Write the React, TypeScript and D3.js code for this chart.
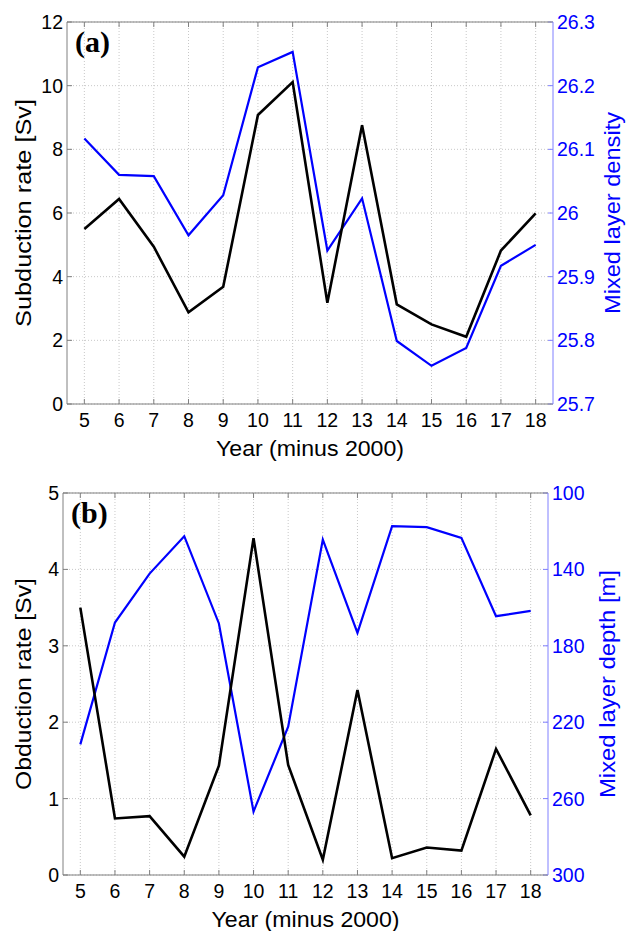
import React from "react";
import * as d3 from "d3";

// Years (minus 2000)
const years = [5, 6, 7, 8, 9, 10, 11, 12, 13, 14, 15, 16, 17, 18];

// Panel (a)
const subductionRate = [5.5, 6.44, 4.94, 2.88, 3.68, 9.08, 10.11, 3.18, 8.76, 3.13, 2.5, 2.11, 4.82, 5.99];
const mixedLayerDensity = [26.117, 26.06, 26.058, 25.965, 26.028, 26.229, 26.253, 25.941, 26.023, 25.799, 25.76, 25.788, 25.917, 25.95];

// Panel (b)
const obductionRate = [3.5, 0.74, 0.77, 0.24, 1.43, 4.41, 1.44, 0.2, 2.42, 0.22, 0.36, 0.32, 1.65, 0.78];
const mixedLayerDepth = [231.6, 167.8, 142.2, 122.6, 168.3, 266.8, 222.4, 124.4, 173.2, 117.4, 117.9, 123.5, 164.5, 161.7];

// Tick values
const leftTicksA = [0, 2, 4, 6, 8, 10, 12];
const rightTicksA = [25.7, 25.8, 25.9, 26.0, 26.1, 26.2, 26.3];
const leftTicksB = [0, 1, 2, 3, 4, 5];
const rightTicksB = [100, 140, 180, 220, 260, 300];

const FONT = "'Liberation Sans', Arial, sans-serif";
const AXIS_GRAY = "#808080";
const AXIS_BLUE = "#8080ff";
const GRID = "#c8c8c8";
const TICK_FS = 19.5;
const TITLE_FS = 22.5;

type PanelProps = {
  left: number;
  right: number;
  top: number;
  bottom: number;
  label: string;
  leftDomain: [number, number];
  rightDomain: [number, number];
  leftTicks: number[];
  rightTicks: number[];
  leftValues: number[];
  rightValues: number[];
  leftTitle: string;
  rightTitle: string;
  leftTitleLen: number;
  rightTitleLen: number;
  rightFormat: (v: number) => string;
};

function Panel(p: PanelProps) {
  const x = d3.scaleLinear().domain([4.5, 18.5]).range([p.left, p.right]);
  const yL = d3.scaleLinear().domain(p.leftDomain).range([p.bottom, p.top]);
  const yR = d3.scaleLinear().domain(p.rightDomain).range([p.bottom, p.top]);

  const lineL = d3
    .line<number>()
    .x((_, i) => x(years[i]))
    .y((d) => yL(d));
  const lineR = d3
    .line<number>()
    .x((_, i) => x(years[i]))
    .y((d) => yR(d));

  const midY = (p.top + p.bottom) / 2;
  const midX = (p.left + p.right) / 2;
  const tickLen = 5;

  return (
    <g>
      {/* grid */}
      {years.map((yr) => (
        <line
          key={"gx" + yr}
          x1={x(yr)}
          x2={x(yr)}
          y1={p.top}
          y2={p.bottom}
          stroke={GRID}
          strokeWidth={1}
          strokeDasharray="1,2"
        />
      ))}
      {p.leftTicks.map((t) => (
        <line
          key={"gy" + t}
          x1={p.left}
          x2={p.right}
          y1={yL(t)}
          y2={yL(t)}
          stroke={GRID}
          strokeWidth={1}
          strokeDasharray="1,2"
        />
      ))}

      {/* x ticks, bottom and top, inward */}
      {years.map((yr) => (
        <g key={"xt" + yr}>
          <line x1={x(yr)} x2={x(yr)} y1={p.bottom} y2={p.bottom - tickLen} stroke={AXIS_GRAY} />
          <line x1={x(yr)} x2={x(yr)} y1={p.top} y2={p.top + tickLen} stroke={AXIS_GRAY} />
          <text
            x={x(yr)}
            y={p.bottom + 23}
            textAnchor="middle"
            fontFamily={FONT}
            fontSize={TICK_FS}
            fill="#000"
          >
            {yr}
          </text>
        </g>
      ))}

      {/* left ticks */}
      {p.leftTicks.map((t) => (
        <g key={"lt" + t}>
          <line x1={p.left} x2={p.left + tickLen} y1={yL(t)} y2={yL(t)} stroke={AXIS_GRAY} />
          <text
            x={p.left - 4}
            y={yL(t)}
            dy="0.36em"
            textAnchor="end"
            fontFamily={FONT}
            fontSize={TICK_FS}
            fill="#000"
          >
            {t}
          </text>
        </g>
      ))}

      {/* right ticks */}
      {p.rightTicks.map((t) => (
        <g key={"rt" + t}>
          <line x1={p.right} x2={p.right - tickLen} y1={yR(t)} y2={yR(t)} stroke={AXIS_BLUE} />
          <text
            x={p.right + 4}
            y={yR(t)}
            dy="0.36em"
            textAnchor="start"
            fontFamily={FONT}
            fontSize={TICK_FS}
            fill="#0000ff"
          >
            {p.rightFormat(t)}
          </text>
        </g>
      ))}

      {/* frame */}
      <line x1={p.left} x2={p.right} y1={p.top} y2={p.top} stroke={AXIS_GRAY} />
      <line x1={p.left} x2={p.right} y1={p.bottom} y2={p.bottom} stroke={AXIS_GRAY} />
      <line x1={p.left} x2={p.left} y1={p.top} y2={p.bottom} stroke={AXIS_GRAY} />
      <line x1={p.right} x2={p.right} y1={p.top} y2={p.bottom} stroke={AXIS_BLUE} />

      {/* series */}
      <path d={lineR(p.rightValues) || ""} fill="none" stroke="#0000ff" strokeWidth={2.2} strokeLinejoin="miter" />
      <path d={lineL(p.leftValues) || ""} fill="none" stroke="#000" strokeWidth={2.6} strokeLinejoin="miter" />

      {/* panel label */}
      <text
        x={p.left + 8}
        y={p.top + 30}
        fontFamily="'Liberation Serif', 'Times New Roman', serif"
        fontWeight="bold"
        fontSize={30}
        fill="#000"
      >
        {p.label}
      </text>

      {/* axis titles */}
      <text
        x={midX}
        y={p.bottom + 52}
        textAnchor="middle"
        fontFamily={FONT}
        fontSize={TITLE_FS}
        textLength={188}
        lengthAdjust="spacingAndGlyphs"
        fill="#000"
      >
        Year (minus 2000)
      </text>
      <text
        transform={`translate(23,${midY}) rotate(-90)`}
        textAnchor="middle"
        dy="0.36em"
        fontFamily={FONT}
        fontSize={TITLE_FS}
        textLength={p.leftTitleLen}
        lengthAdjust="spacingAndGlyphs"
        fill="#000"
      >
        {p.leftTitle}
      </text>
      <text
        transform={`translate(${p.right + 59},${midY}) rotate(-90)`}
        textAnchor="middle"
        dy="0.36em"
        fontFamily={FONT}
        fontSize={TITLE_FS}
        textLength={p.rightTitleLen}
        lengthAdjust="spacingAndGlyphs"
        fill="#0000ff"
      >
        {p.rightTitle}
      </text>
    </g>
  );
}

export default function App() {
  const fmtDensity = (v: number) => (Math.abs(v - 26) < 1e-9 ? "26" : v.toFixed(1));
  return (
    <svg
      width={629}
      height={931}
      viewBox="0 0 629 931"
      style={{ position: "absolute", left: 0, top: 0, background: "#fff" }}
    >
      <rect x={0} y={0} width={629} height={931} fill="#fff" />
      <Panel
        left={67}
        right={553}
        top={22}
        bottom={404}
        label="(a)"
        leftDomain={[0, 12]}
        rightDomain={[25.7, 26.3]}
        leftTicks={leftTicksA}
        rightTicks={rightTicksA}
        leftValues={subductionRate}
        rightValues={mixedLayerDensity}
        leftTitle="Subduction rate [Sv]"
        rightTitle="Mixed layer density"
        leftTitleLen={228}
        rightTitleLen={202}
        rightFormat={fmtDensity}
      />
      <Panel
        left={63}
        right={548}
        top={493}
        bottom={875}
        label="(b)"
        leftDomain={[0, 5]}
        rightDomain={[300, 100]}
        leftTicks={leftTicksB}
        rightTicks={rightTicksB}
        leftValues={obductionRate}
        rightValues={mixedLayerDepth}
        leftTitle="Obduction rate [Sv]"
        rightTitle="Mixed layer depth [m]"
        leftTitleLen={212}
        rightTitleLen={228}
        rightFormat={(v) => String(v)}
      />
    </svg>
  );
}
